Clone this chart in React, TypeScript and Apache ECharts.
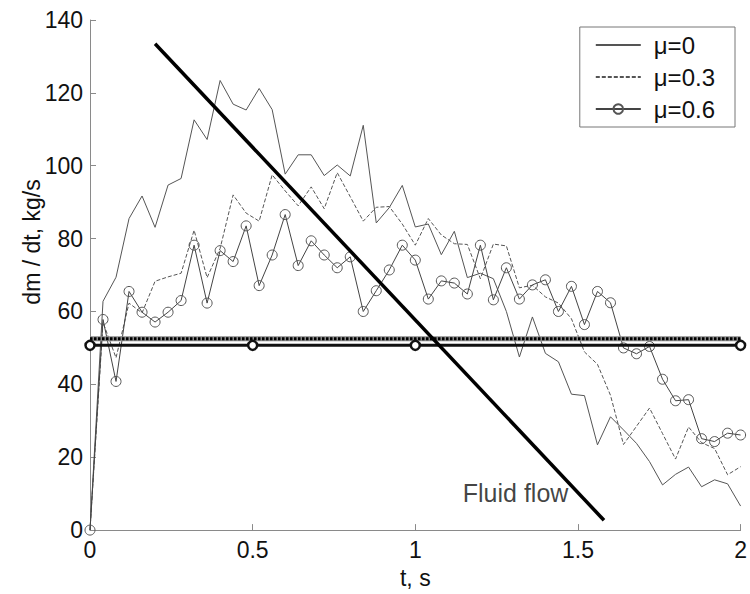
import React, { useEffect, useRef } from "react";
import * as echarts from "echarts";

const times: number[] = Array.from({ length: 51 }, (_, i) => +(i * 0.04).toFixed(2));

const mu0: number[] = [
  0, 62.8, 69.4, 85.5, 91.7, 83.1, 94.7, 96.5, 112.6, 107.2, 123.4, 116.9, 115.3, 121.2, 115.4, 97.7,
  103, 103, 97.3, 100.2, 97.2, 111.1, 84.3, 88.5, 94.6, 83.2, 84, 75.6, 82, 69.3, 70.5, 69, 60, 47.5,
  58.5, 48.5, 46.2, 37.3, 36.9, 23.4, 31.1, 27.5, 23.8, 18.8, 12.4, 15.3, 17.3, 11.9, 13.8, 12.7, 6.6,
];

const mu03: number[] = [
  0, 57, 47.3, 62.3, 59.6, 68.3, 69.5, 70.5, 82.3, 69.3, 77.3, 92, 87, 84.8, 97.5, 93.1, 89, 94.2,
  88.2, 98.1, 91.5, 84.8, 88.6, 88.8, 84, 78.2, 85.5, 81, 78.6, 78.4, 69, 78.5, 78, 66.5, 67.2, 64,
  62.3, 58, 48.9, 45.5, 37, 23.5, 28.5, 33.5, 26.5, 19.5, 28.3, 24, 22.4, 15.2, 17.4,
];

const mu06: number[] = [
  0, 57.8, 40.8, 65.5, 59.8, 57.1, 59.8, 63, 78.2, 62.3, 76.7, 73.7, 83.5, 67.1, 75.5, 86.6, 72.6,
  79.4, 75.5, 72, 75, 60, 65.7, 71.4, 78.2, 74.1, 63.4, 68.4, 67.8, 64.8, 78.2, 63.2, 72, 63.4, 67.3,
  68.7, 60, 66.9, 56.4, 65.5, 62.4, 50, 48.4, 50.4, 41.4, 35.5, 35.8, 25.1, 24.3, 26.6, 26.1,
];

const seriesNames: string[] = ["\u03bc=0", "\u03bc=0.3", "\u03bc=0.6"];

const avgSolidT: number[] = [0, 0.5, 1, 2];
const avgSolidValue = 50.7;
const avgDottedT: number[] = [0, 2];
const avgDottedValue = 52.5;

const fluidT: number[] = [0.2, 1.58];
const fluidValue: number[] = [133.5, 2.7];
const fluidLabelPos: number[] = [1.146, 10.9];

const xTicks = { min: 0, max: 2, interval: 0.5 };
const yTicks = { min: 0, max: 140, interval: 20 };

const FONT = "'Liberation Sans', Arial, sans-serif";

export default function App() {
  const ref = useRef<HTMLDivElement>(null);

  useEffect(() => {
    if (!ref.current) return;
    const chart = echarts.init(ref.current, undefined, { renderer: "svg" });
    const pair = (vals: number[]) => times.map((t, i) => [t, vals[i]]);
    const axisColor = "#8a8a8a";
    const hiddenIcon = { color: "rgba(0,0,0,0)", borderColor: "rgba(0,0,0,0)", borderWidth: 0 };

    chart.setOption({
      animation: false,
      backgroundColor: "#ffffff",
      grid: { left: 90, right: 8, top: 20, bottom: 60 },
      xAxis: {
        type: "value",
        min: xTicks.min,
        max: xTicks.max,
        interval: xTicks.interval,
        name: "t, s",
        nameLocation: "middle",
        nameGap: 34,
        nameTextStyle: { fontFamily: FONT, fontSize: 23, color: "#111" },
        axisLine: { show: true, onZero: false, lineStyle: { color: axisColor, width: 1 } },
        axisTick: { show: true, inside: true, length: 6, lineStyle: { color: axisColor } },
        axisLabel: { fontFamily: FONT, fontSize: 23, color: "#111", margin: 8 },
        splitLine: { show: false },
      },
      yAxis: {
        type: "value",
        min: yTicks.min,
        max: yTicks.max,
        interval: yTicks.interval,
        axisLine: { show: true, onZero: false, lineStyle: { color: axisColor, width: 1 } },
        axisTick: { show: true, inside: true, length: 6, lineStyle: { color: axisColor } },
        axisLabel: { fontFamily: FONT, fontSize: 23, color: "#111", margin: 7 },
        splitLine: { show: false },
      },
      legend: {
        data: [
          { name: seriesNames[0], itemStyle: hiddenIcon },
          { name: seriesNames[1], itemStyle: hiddenIcon },
          { name: seriesNames[2] },
        ],
        orient: "vertical",
        right: 15,
        top: 27,
        backgroundColor: "#ffffff",
        borderColor: "#777",
        borderWidth: 1,
        borderRadius: 0,
        padding: [6, 20, 6, 15],
        itemWidth: 45,
        itemHeight: 12,
        itemGap: 8,
        textStyle: { fontFamily: FONT, fontSize: 24, color: "#111", lineHeight: 24, padding: [0, 0, 0, 8] },
      },
      graphic: [
        {
          type: "text",
          x: 32,
          y: 242,
          rotation: Math.PI / 2,
          style: {
            text: "dm / dt, kg/s",
            font: `23px ${FONT}`,
            fill: "#111",
            textAlign: "center",
            textVerticalAlign: "middle",
          },
        },
      ],
      series: [
        {
          name: seriesNames[0],
          type: "line",
          data: pair(mu0),
          symbol: "none",
          lineStyle: { color: "#555", width: 1 },
          itemStyle: { color: "#555" },
          z: 3,
        },
        {
          name: seriesNames[1],
          type: "line",
          data: pair(mu03),
          symbol: "none",
          lineStyle: { color: "#555", width: 1, type: [4, 2] },
          itemStyle: { color: "#555" },
          z: 3,
        },
        {
          name: seriesNames[2],
          type: "line",
          data: pair(mu06),
          symbol: "circle",
          symbolSize: 10,
          showAllSymbol: true,
          lineStyle: { color: "#444", width: 1 },
          itemStyle: { color: "rgba(255,255,255,0)", borderColor: "#555", borderWidth: 1 },
          z: 4,
        },
        {
          name: "avgDottedBase",
          type: "line",
          data: avgDottedT.map((t) => [t, avgDottedValue]),
          symbol: "none",
          lineStyle: { color: "#888", width: 5 },
          z: 5,
          silent: true,
        },
        {
          name: "avgDotted",
          type: "line",
          data: avgDottedT.map((t) => [t, avgDottedValue]),
          symbol: "none",
          lineStyle: { color: "#000", width: 3, type: [2.5, 1.5] },
          z: 6,
          silent: true,
        },
        {
          name: "avgSolid",
          type: "line",
          data: avgSolidT.map((t) => [t, avgSolidValue]),
          symbol: "circle",
          symbolSize: 9,
          showAllSymbol: true,
          lineStyle: { color: "#111", width: 3 },
          itemStyle: { color: "#ffffff", borderColor: "#111", borderWidth: 2.5 },
          z: 7,
          silent: true,
        },
        {
          name: "fluid",
          type: "line",
          data: fluidT.map((t, i) => [t, fluidValue[i]]),
          symbol: "none",
          lineStyle: { color: "#000", width: 3.5 },
          z: 8,
          silent: true,
        },
        {
          name: "fluidLabel",
          type: "scatter",
          data: [fluidLabelPos],
          symbolSize: 0,
          silent: true,
          label: {
            show: true,
            position: "right",
            distance: 0,
            formatter: "Fluid flow",
            fontFamily: FONT,
            fontSize: 25,
            color: "#111",
            offset: [0, 3],
          },
          z: 9,
        },
      ],
    });

    return () => chart.dispose();
  }, []);

  return (
    <div
      ref={ref}
      style={{ position: "fixed", left: 0, top: 0, width: 750, height: 594, background: "#fff" }}
    />
  );
}
